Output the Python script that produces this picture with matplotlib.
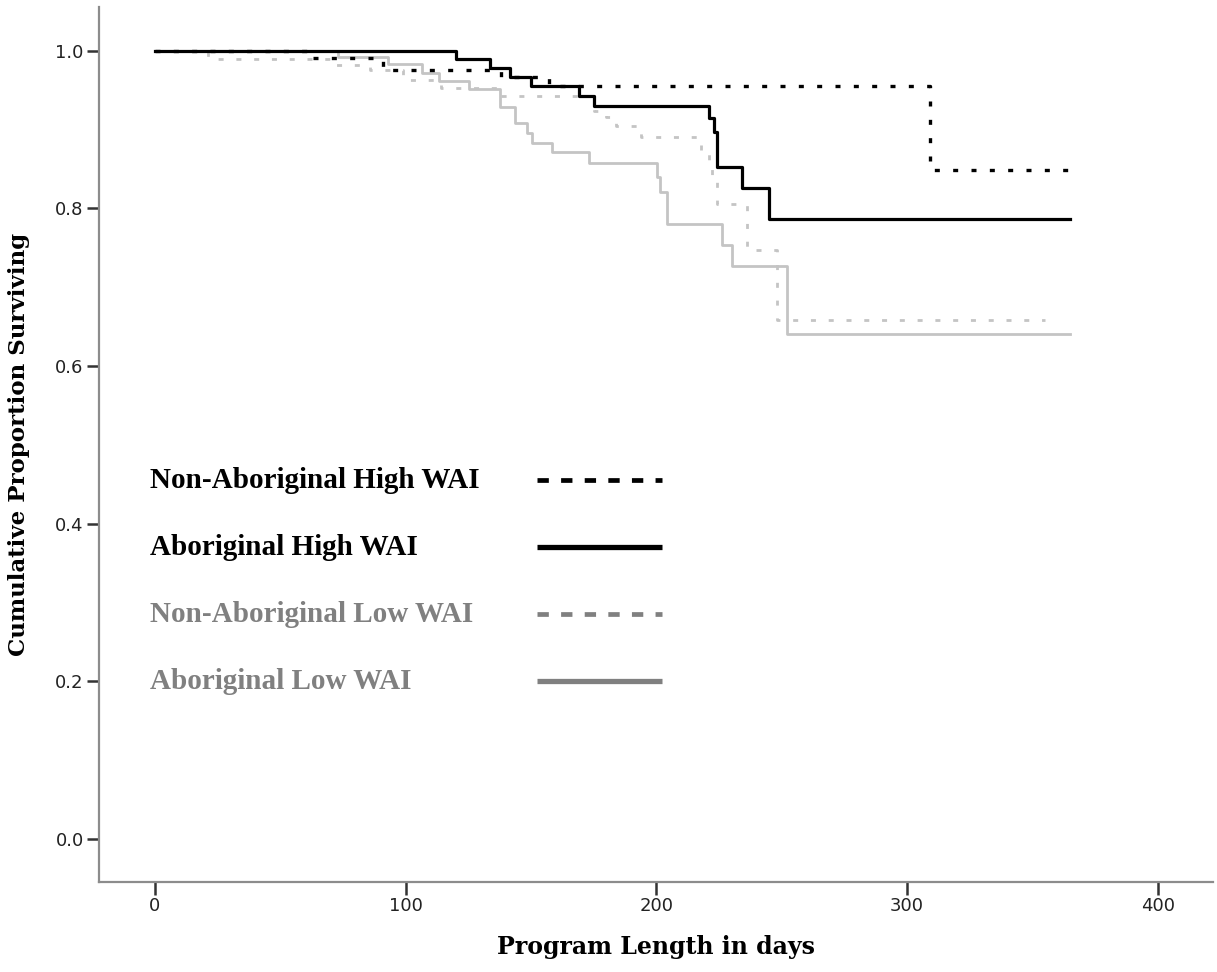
import matplotlib
matplotlib.use('Agg')
import matplotlib.pyplot as plt
import numpy as np

#  survival curves (time in days, proportion surviving)
nonab_high_t = [0, 62, 91, 138, 157, 309, 365]
nonab_high_s = [1.0, 0.991, 0.975, 0.966, 0.955, 0.848, 0.848]

ab_high_t = [0, 120.3, 133.6, 141.6, 150, 169, 175, 221.2, 222.8, 224.2, 234.1, 245.1, 365]
ab_high_s = [1.0, 0.989, 0.978, 0.967, 0.955, 0.943, 0.930, 0.914, 0.897, 0.852, 0.826, 0.786, 0.786]

nonab_low_t = [0, 21, 72, 86, 99, 114, 138, 175, 180, 184, 194, 218, 221, 222, 224,
               236, 248, 355]
nonab_low_s = [1.0, 0.990, 0.982, 0.976, 0.963, 0.952, 0.942, 0.923, 0.916, 0.905, 0.890,
               0.872, 0.857, 0.838, 0.806, 0.747, 0.658, 0.658]

ab_low_t = [0, 73, 93, 106.6, 113.3, 125.2, 137.8, 143.8, 148.5, 150.5, 158.4, 173,
            200.2, 201.6, 204.3, 226.2, 230.1, 252, 365]
ab_low_s = [1.0, 0.992, 0.983, 0.972, 0.962, 0.951, 0.929, 0.908, 0.895, 0.883, 0.871,
            0.858, 0.840, 0.821, 0.780, 0.753, 0.727, 0.641, 0.641]

group_labels = ['Non-Aboriginal High WAI', 'Aboriginal High WAI',
                'Non-Aboriginal Low WAI', 'Aboriginal Low WAI']

x_ticks = [0, 100, 200, 300, 400]
y_ticks = [0.0, 0.2, 0.4, 0.6, 0.8, 1.0]

light_grey = '#c4c4c4'
mid_grey = '#808080'

fig = plt.figure(figsize=(12.17, 9.72), dpi=100)
ax = fig.add_axes([0.0813, 0.0926, 0.9154, 0.8999])

#  curves, grey ones first so the black ones sit on top
ax.step(ab_low_t, ab_low_s, where='post', color=light_grey, lw=2.0, zorder=2)
ax.step(nonab_low_t, nonab_low_s, where='post', color=light_grey, lw=2.0,
        dashes=(1.8, 4.6), dash_capstyle='butt', zorder=3)
ax.step(nonab_high_t, nonab_high_s, where='post', color='black', lw=2.4,
        dashes=(1.5, 4.0), dash_capstyle='butt', zorder=4)
ax.step(ab_high_t, ab_high_s, where='post', color='black', lw=2.3, zorder=5)

#  hand drawn legend: label on the left, line sample on the right
leg_y = [0.455, 0.37, 0.285, 0.2]
leg_colors = ['black', 'black', mid_grey, mid_grey]
leg_dashed = [True, False, True, False]
for lab, yy, c, dashed in zip(group_labels, leg_y, leg_colors, leg_dashed):
    ax.text(-2, yy, lab, color=c, fontsize=21, fontweight='bold',
            family='Liberation Serif', va='center', ha='left')
    if dashed:
        ax.plot([152.4, 202.2], [yy, yy], color=c, lw=3.4, dashes=(2.4, 2.6),
                dash_capstyle='butt')
    else:
        ax.plot([152.4, 202.2], [yy, yy], color=c, lw=3.8, solid_capstyle='butt')

ax.set_xlim(-22.3, 422)
ax.set_ylim(-0.0545, 1.055)
ax.set_xticks(x_ticks)
ax.set_yticks(y_ticks)
ax.set_yticklabels([f'{v:.1f}' for v in y_ticks])

for side in ['top', 'right']:
    ax.spines[side].set_visible(False)
for side in ['left', 'bottom']:
    ax.spines[side].set_color('#8c8c8c')
    ax.spines[side].set_linewidth(1.6)

ax.tick_params(direction='out', length=9, width=1.8, color='#333333',
               labelsize=13, labelcolor='#222222', pad=2)
for lbl in ax.get_xticklabels() + ax.get_yticklabels():
    lbl.set_family(['Liberation Sans Narrow', 'DejaVu Sans'])

ax.set_xlabel('Program Length in days', fontsize=17, fontweight='bold',
              family='DejaVu Serif', labelpad=14)
ax.set_ylabel('Cumulative Proportion Surviving', fontsize=16.5, fontweight='bold',
              family='DejaVu Serif', labelpad=18)

plt.savefig('out.png', dpi=100)
